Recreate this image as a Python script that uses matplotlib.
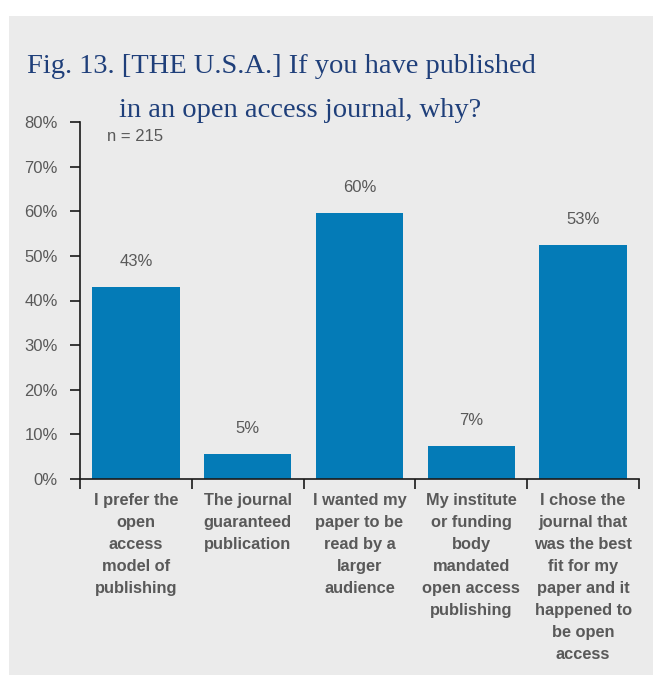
import numpy as np
import matplotlib
matplotlib.use("Agg")
import matplotlib.pyplot as plt
from matplotlib.patches import Rectangle

# data
categories = [
    "I prefer the\nopen\naccess\nmodel of\npublishing",
    "The journal\nguaranteed\npublication",
    "I wanted my\npaper to be\nread by a\nlarger\naudience",
    "My institute\nor funding\nbody\nmandated\nopen access\npublishing",
    "I chose the\njournal that\nwas the best\nfit for my\npaper and it\nhappened to\nbe open\naccess",
]
values = [43.1, 5.7, 59.7, 7.4, 52.5]
value_labels = ["43%", "5%", "60%", "7%", "53%"]
yticks = [0, 10, 20, 30, 40, 50, 60, 70, 80]
n_text = "n = 215"
title_1 = "Fig. 13. [THE U.S.A.] If you have published"
title_2 = "in an open access journal, why?"

W, H = 653, 675
BG = "#ebebeb"
BAR = "#047bb7"
GREY = "#595959"
NAVY = "#1f3f7a"

plt.rcParams.update({"font.family": ["Liberation Sans", "DejaVu Sans"]})

fig = plt.figure(figsize=(W / 100, H / 100), dpi=100)
fig.patch.set_facecolor("white")
fig.patches.append(Rectangle((9 / W, 0), 1 - 9 / W, 1 - 16 / H,
                             transform=fig.transFigure, facecolor=BG,
                             edgecolor="none", zorder=-5))

fig.text(27 / W, 1 - 73 / H, title_1, family="Liberation Serif", fontsize=20.5,
         color=NAVY, va="baseline", ha="left")
fig.text(119 / W, 1 - 117 / H, title_2, family="Liberation Serif", fontsize=20.5,
         color=NAVY, va="baseline", ha="left")

ax = fig.add_axes([80 / W, 1 - 479 / H, (639 - 80) / W, (479 - 122) / H])
ax.set_facecolor("none")

x = np.arange(len(categories))
ax.bar(x, values, width=0.78, color=BAR, zorder=2)
for xi, v, lab in zip(x, values, value_labels):
    ax.annotate(lab, (xi, v), xytext=(0, 13), textcoords="offset points",
                ha="center", va="bottom", fontsize=12, color=GREY)

ax.set_xlim(-0.5, len(categories) - 0.5)
ax.set_ylim(0, 80)
ax.set_yticks(yticks)
ax.set_yticklabels([f"{t}%" for t in yticks], fontsize=12, color=GREY)
ax.tick_params(axis="y", direction="out", length=7, width=1.2, pad=9, color="#1a1a1a")

ax.set_xticks(x)
ax.set_xticklabels(categories, fontsize=11.8, fontweight="bold", color=GREY,
                   linespacing=1.58, va="top")
ax.set_xticks(np.arange(len(categories) + 1) - 0.5, minor=True)
ax.tick_params(axis="x", which="major", length=0, pad=10)
ax.tick_params(axis="x", which="minor", direction="out", length=7, width=1.2,
               color="#1a1a1a")

for s in ["top", "right"]:
    ax.spines[s].set_visible(False)
for s in ["left", "bottom"]:
    ax.spines[s].set_color("#1a1a1a")
    ax.spines[s].set_linewidth(1.2)

ax.text(0.098, 0.96, n_text, transform=ax.transAxes, ha="center", va="center",
        fontsize=12, color=GREY)

fig.savefig("out.png", dpi=100, facecolor=fig.get_facecolor())
